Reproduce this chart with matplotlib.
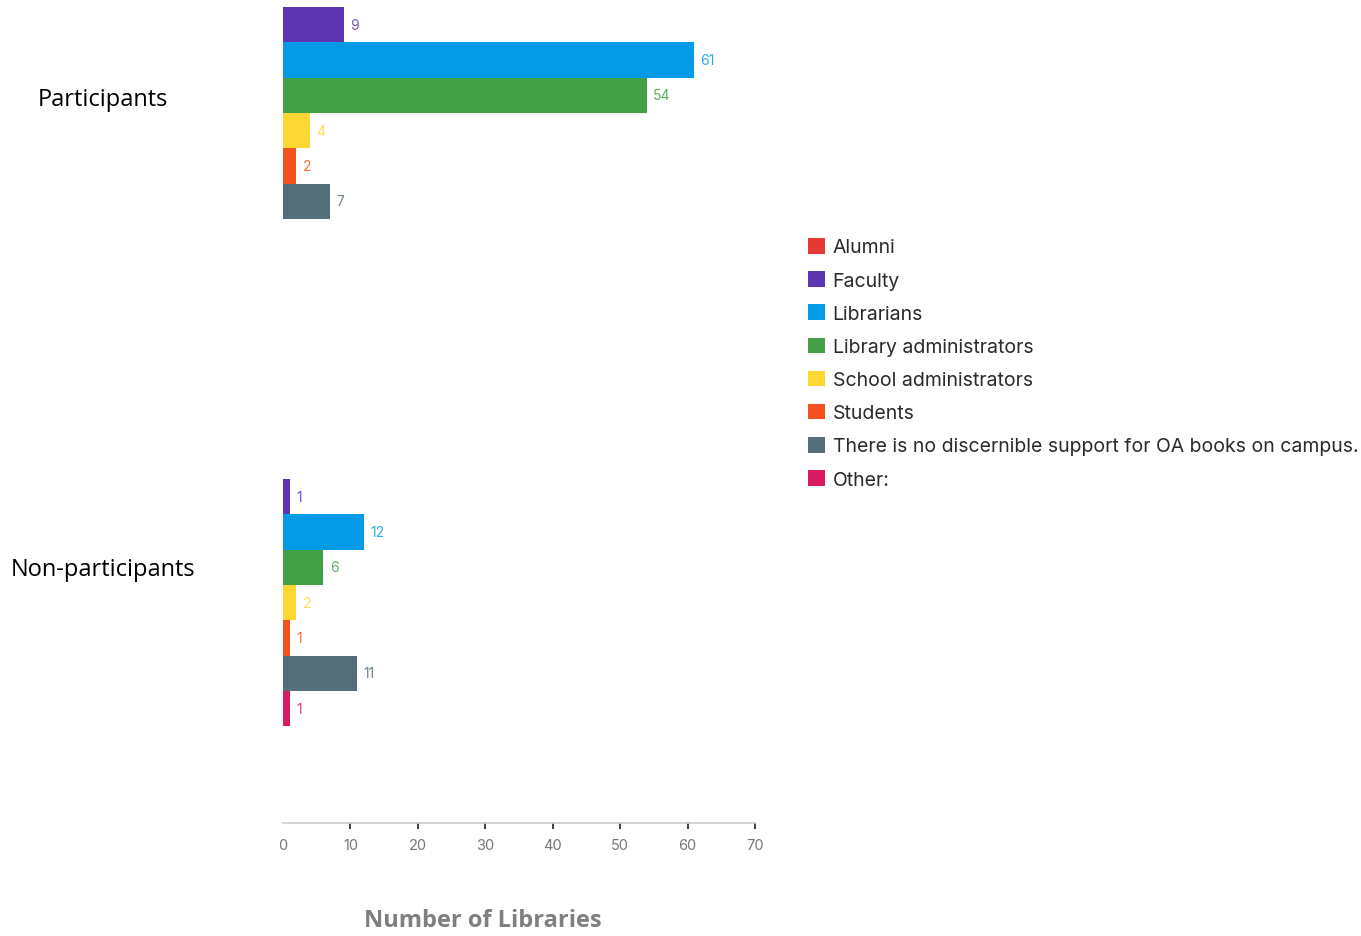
import numpy as np
import matplotlib.pyplot as plt
from matplotlib.patches import Patch

# datos
categories = ["Alumni", "Faculty", "Librarians", "Library administrators",
              "School administrators", "Students",
              "There is no discernible support for OA books on campus.", "Other:"]
colors = ["#E53935", "#5E35B1", "#039BE5", "#43A047",
          "#FDD835", "#F4511E", "#546E7A", "#D81B60"]
groups = ["Participants", "Non-participants"]
participants = [0, 9, 61, 54, 4, 2, 7, 0]
non_participants = [0, 1, 12, 6, 2, 1, 11, 1]
xticks = [0, 10, 20, 30, 40, 50, 60, 70]

plt.rcParams['font.family'] = ['Inter', 'DejaVu Sans']

fig = plt.figure(figsize=(13.61, 9.37), dpi=100)
W, H = 1361, 937
ax = fig.add_axes([283 / W, 1 - 824 / H, 472 / W, 826 / H])

h = 35.3 / 472
values = [participants, non_participants]
for g, vals in enumerate(values):
    for i, (v, c) in enumerate(zip(vals, colors)):
        y = g + (i - 3.5) * h
        ax.barh(y, v, height=h, color=c, linewidth=0)
        if v > 0:
            ax.annotate(str(v), xy=(v, y), xytext=(4.5, 0), textcoords="offset points",
                        va='center', ha='left', fontsize=10, color=c, alpha=0.85)

# rango y: centro del grupo 0 en 114 px, separacion 472 px
ax.set_ylim((824 - 114) / 472, (-2 - 114) / 472)
ax.set_xlim(0, 70)
ax.set_yticks([])
ax.set_xticks(xticks)
ax.set_xticklabels([str(t) for t in xticks])
for s in ['left', 'top', 'right']:
    ax.spines[s].set_visible(False)
ax.spines['bottom'].set_color('#cccccc')
ax.spines['bottom'].set_linewidth(1.2)
ax.tick_params(axis='x', direction='out', length=4.5, width=1.3, color='#333333',
               labelsize=10.5, labelcolor='#777777', pad=6.5)
ax.xaxis.get_major_ticks()[0].tick1line.set_visible(False)

# etiquetas de grupo
fig.text(103 / W, 1 - 100 / H, groups[0], ha='center', va='center',
         fontsize=17, family='Open Sans', color='black')
fig.text(103 / W, 1 - 570 / H, groups[1], ha='center', va='center',
         fontsize=17, family='Open Sans', color='black')

fig.text(483 / W, 1 - 921 / H, "Number of Libraries", ha='center', va='center',
         fontsize=17, family='Open Sans', fontweight='bold', color='#7f7f7f')

handles = [Patch(facecolor=c, edgecolor='none') for c in colors]
fig.legend(handles, categories, loc='upper left', bbox_to_anchor=(808 / W, 1 - 239 / H),
           frameon=False, fontsize=14, handlelength=0.85, handleheight=0.85,
           handletextpad=0.42, labelspacing=0.755, labelcolor='#2a2a2a',
           borderaxespad=0, borderpad=0)

fig.savefig('out.png', dpi=100)
